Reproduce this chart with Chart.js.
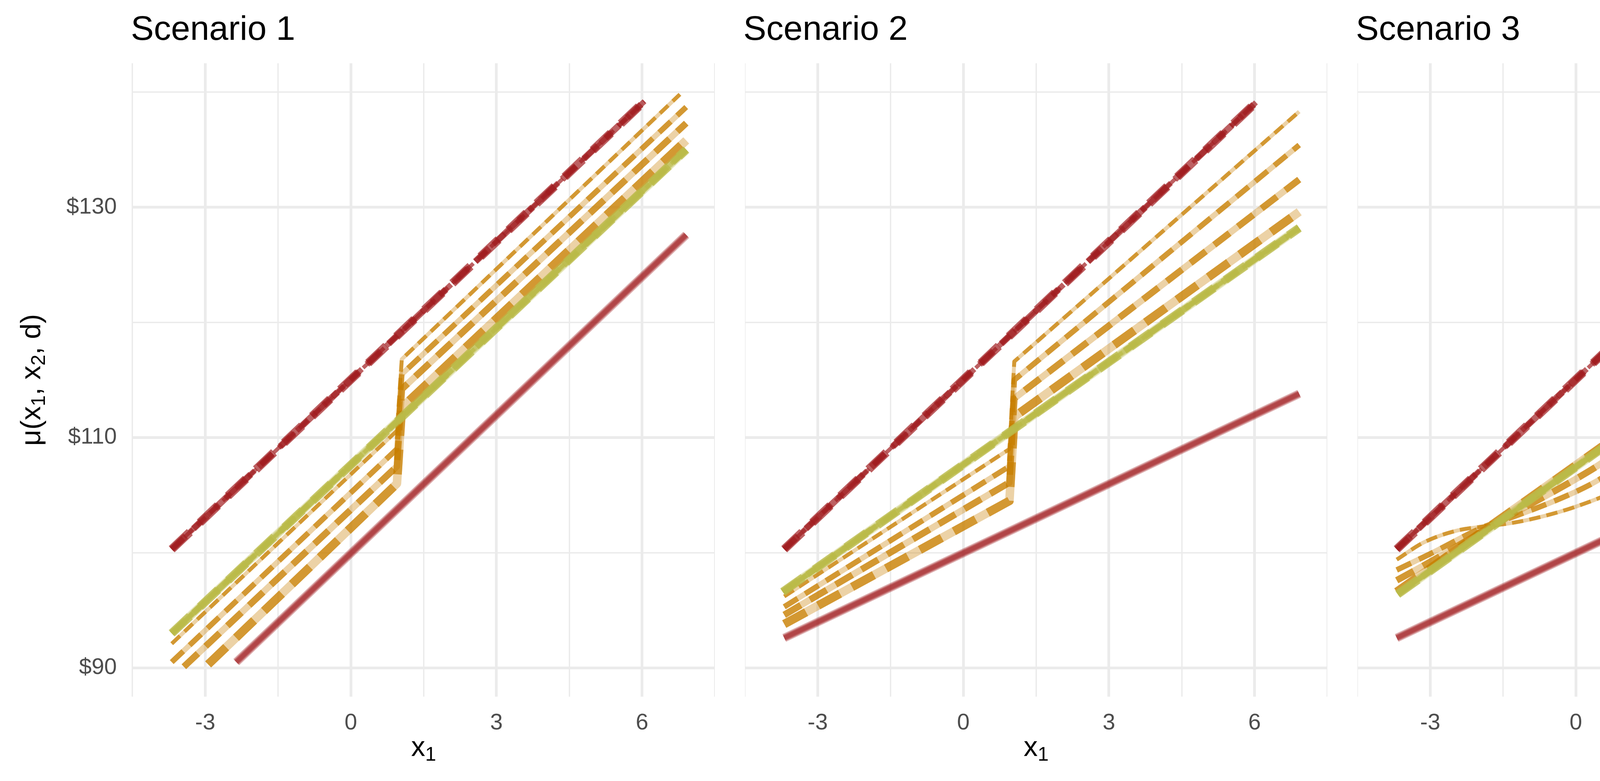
<!DOCTYPE html>
<html>
<head>
<meta charset="utf-8">
<script src="https://cdn.jsdelivr.net/npm/chart.js@4.4.1/dist/chart.umd.min.js"></script>
<style>
  html, body { margin: 0; padding: 0; background: #ffffff; }
  body { width: 5275px; height: 2000px; position: relative; overflow: hidden;
         font-family: "Liberation Sans", Arial, Helvetica, sans-serif; color: #000; }
  #page { position: absolute; left: 0; top: 0; width: 5275px; height: 2000px; }
  .t { position: absolute; white-space: nowrap; }
  canvas { position: absolute; }
  .sub { font-size: 0.7em; position: relative; top: 0.24em; }
  .sup { font-size: 0.62em; position: relative; top: -0.72em; }
</style>
</head>
<body>
<div id="page"></div>
<script>
// ---------------- DATA ----------------
const SCENARIO_NAMES = ["Scenario 1", "Scenario 2", "Scenario 3"];
const X_TICKS = [-3, 0, 3, 6];
const X_MINOR = [-4.5, -1.5, 1.5, 4.5, 7.5];
const Y_TICKS = [90, 110, 130];
const Y_TICK_LABELS = ["$90", "$110", "$130"];
const Y_MINOR = [100, 120, 140];
const D_LEVELS = ["0", "1"];
const MU_LEVELS = ["B", "U", "A"];
const X2_LEVELS = ["1", "2", "3", "4"];

// Scenario 1  ([x1, mu] points)
const S1_muB_d0 = [[-2.36, 90.5], [6.91, 127.6]];
const S1_muB_d1 = [[-3.69, 100.3], [6.05, 139.2]];
const S1_muA    = [[-3.69, 93.0], [6.91, 135.0]];
const S1_muU_x2_1 = [[-2.94, 90.3], [0.95, 106.0], [1.05, 112.6], [6.91, 135.8]];
const S1_muU_x2_2 = [[-3.44, 90.1], [0.95, 107.5], [1.05, 114.2], [6.91, 137.3]];
const S1_muU_x2_3 = [[-3.69, 90.5], [0.95, 109.0], [1.05, 115.5], [6.91, 138.7]];
const S1_muU_x2_4 = [[-3.69, 92.1], [0.95, 110.6], [1.05, 116.8], [6.78, 139.8]];

// Scenario 2
const S2_muB_d0 = [[-3.69, 92.6], [6.92, 113.8]];
const S2_muB_d1 = [[-3.69, 100.3], [6.03, 139.1]];
const S2_muA    = [[-3.72, 96.6], [6.92, 128.2]];
const S2_muU_x2_1 = [[-3.69, 93.8], [0.95, 104.5], [1.05, 111.8], [6.92, 129.6]];
const S2_muU_x2_2 = [[-3.69, 94.6], [0.95, 106.1], [1.05, 113.4], [6.92, 132.4]];
const S2_muU_x2_3 = [[-3.69, 95.3], [0.95, 107.5], [1.05, 115.0], [6.92, 135.4]];
const S2_muU_x2_4 = [[-3.69, 96.2], [0.95, 109.0], [1.05, 116.6], [6.92, 138.3]];

// Scenario 3
const S3_muB_d0 = [[-3.69, 92.6], [6.9, 113.75]];
const S3_muB_d1 = [[-3.69, 100.3], [6.02, 139.1]];
const S3_muA    = [[-3.67, 96.4], [6.9, 128.2]];
const S3_muU_x2_1 = [[-3.69, 96.6], [-1.8, 102.2], [1.0, 110.6], [3.8, 119.1], [6.9, 128.4]];
const S3_muU_x2_2 = [[-3.69, 97.6], [-3.0, 99.2], [-1.5, 102.9], [0.0, 106.4], [0.54, 107.8], [1.5, 110.9],
                     [3.0, 116.2], [3.8, 119.1], [4.53, 122.5], [5.26, 126.3], [5.99, 130.2], [6.57, 133.4], [6.92, 135.5]];
const S3_muU_x2_3 = [[-3.69, 98.5], [-3.0, 99.9], [-1.86, 102.3], [-1.5, 102.8], [0.0, 105.3], [0.54, 106.5],
                     [1.5, 109.4], [3.0, 115.0], [3.45, 117.0], [3.8, 119.2], [4.17, 121.7], [4.68, 125.2],
                     [5.33, 129.7], [5.99, 134.1], [6.5, 137.3], [6.88, 139.6]];
const S3_muU_x2_4 = [[-3.69, 99.4], [-3.13, 100.9], [-2.47, 101.9], [-1.86, 102.3], [-1.44, 102.5], [-0.83, 103.0],
                     [0.0, 104.0], [0.82, 105.4], [1.5, 107.2], [2.23, 109.8], [3.0, 113.8], [3.45, 116.5],
                     [3.8, 119.2], [4.38, 124.1], [4.73, 126.9], [5.11, 130.0], [5.43, 132.7], [5.68, 134.6],
                     [5.99, 136.8], [6.42, 139.5]];
const S3_muU_x2_4_d0 = S3_muU_x2_4.filter(p => p[0] <= 5.7);

// ---------------- STYLE / LAYOUT ----------------
const FONT = '"Liberation Sans", Arial, Helvetica, sans-serif';
const MU_RGB = { B: "161,28,32", U: "200,127,0", A: "187,187,72" };
const D_ALPHA = { "0": 0.35, "1": 0.7 };
const X2_WIDTH = { "1": 22, "2": 17, "3": 14, "4": 10 };
const PLOT_LEFT = [339, 1907, 3475];
const PLOT_W = 1491, PLOT_TOP = 162, PLOT_H = 1622;
const XAXIS_H = 130, YAXIS_W = 188;
const page = document.getElementById("page");

const scenarios = [
  { B: [S1_muB_d0, S1_muB_d1], A: [S1_muA, S1_muA],
    U0: [S1_muU_x2_1, S1_muU_x2_2, S1_muU_x2_3, S1_muU_x2_4],
    U1: [S1_muU_x2_1, S1_muU_x2_2, S1_muU_x2_3, S1_muU_x2_4], smooth: false },
  { B: [S2_muB_d0, S2_muB_d1], A: [S2_muA, S2_muA],
    U0: [S2_muU_x2_1, S2_muU_x2_2, S2_muU_x2_3, S2_muU_x2_4],
    U1: [S2_muU_x2_1, S2_muU_x2_2, S2_muU_x2_3, S2_muU_x2_4], smooth: false },
  { B: [S3_muB_d0, S3_muB_d1], A: [S3_muA, S3_muA],
    U0: [S3_muU_x2_1, S3_muU_x2_2, S3_muU_x2_3, S3_muU_x2_4_d0],
    U1: [S3_muU_x2_1, S3_muU_x2_2, S3_muU_x2_3, S3_muU_x2_4], smooth: true }
];

function seriesFor(sc, mu, d, k) {
  if (mu === "B") return sc.B[d];
  if (mu === "A") return sc.A[d];
  return d === 0 ? sc.U0[k] : sc.U1[k];
}

function buildDatasets(sc) {
  const bottomToTop = [];
  MU_LEVELS.forEach(mu => {
    D_LEVELS.forEach((dl, d) => {
      X2_LEVELS.forEach((x2, k) => {
        const w = X2_WIDTH[x2];
        bottomToTop.push({
          data: seriesFor(sc, mu, d, k).map(p => ({ x: p[0], y: p[1] })),
          borderColor: "rgba(" + MU_RGB[mu] + "," + D_ALPHA[dl] + ")",
          borderWidth: w,
          borderDash: d === 1 ? [2.9 * w, 1.6 * w] : [],
          borderCapStyle: "butt",
          borderJoinStyle: "round",
          pointRadius: 0,
          pointHoverRadius: 0,
          fill: false,
          cubicInterpolationMode: (sc.smooth && mu === "U") ? "monotone" : "default",
          tension: 0
        });
      });
    });
  });
  return bottomToTop.reverse(); // dataset 0 is painted last in Chart.js
}

const X_GRID = [...X_TICKS, ...X_MINOR].sort((a, b) => a - b);
const Y_GRID = [...Y_TICKS, ...Y_MINOR].sort((a, b) => a - b);

function zeroPad(s) { s.paddingLeft = 0; s.paddingRight = 0; s.paddingTop = 0; s.paddingBottom = 0; }

function addText(html, css) {
  const el = document.createElement("div");
  el.className = "t";
  el.innerHTML = html;
  Object.assign(el.style, css);
  page.appendChild(el);
  return el;
}

scenarios.forEach((sc, i) => {
  const yw = i === 0 ? YAXIS_W : 0;
  const cv = document.createElement("canvas");
  cv.width = PLOT_W + yw;
  cv.height = PLOT_H + XAXIS_H;
  cv.style.left = (PLOT_LEFT[i] - yw) + "px";
  cv.style.top = PLOT_TOP + "px";
  cv.style.width = cv.width + "px";
  cv.style.height = cv.height + "px";
  page.appendChild(cv);

  new Chart(cv.getContext("2d"), {
    type: "line",
    data: { datasets: buildDatasets(sc) },
    options: {
      responsive: false,
      animation: false,
      devicePixelRatio: 1,
      layout: { padding: 0 },
      plugins: { legend: { display: false }, tooltip: { enabled: false }, title: { display: false } },
      events: [],
      scales: {
        x: {
          type: "linear", min: -4.5, max: 7.5,
          afterBuildTicks: s => { s.ticks = X_GRID.map(v => ({ value: v })); },
          afterFit: s => { s.height = XAXIS_H; zeroPad(s); },
          border: { display: false },
          grid: { color: "#EBEBEB", drawTicks: false,
                  lineWidth: c => (X_TICKS.includes(c.tick.value) ? 7 : 3.5) },
          ticks: { autoSkip: false, maxRotation: 0, minRotation: 0, padding: 33,
                   color: "#4D4D4D", font: { family: FONT, size: 58 },
                   callback: v => (X_TICKS.includes(v) ? String(v) : "") }
        },
        y: {
          type: "linear", min: 87.5, max: 142.5,
          afterBuildTicks: s => { s.ticks = Y_GRID.map(v => ({ value: v })); },
          afterFit: s => { s.width = yw; zeroPad(s); },
          border: { display: false },
          grid: { color: "#EBEBEB", drawTicks: false,
                  lineWidth: c => (Y_TICKS.includes(c.tick.value) ? 7 : 3.5) },
          ticks: { display: i === 0, padding: 40, color: "#4D4D4D",
                   font: { family: FONT, size: 58 },
                   callback: v => { const j = Y_TICKS.indexOf(v); return j >= 0 ? Y_TICK_LABELS[j] : ""; } }
        }
      }
    }
  });

  addText(SCENARIO_NAMES[i], { left: (PLOT_LEFT[i] - 4) + "px", top: "28px",
                               fontSize: "88px", lineHeight: "88px" });
  addText('x<span class="sub">1</span>', { left: (PLOT_LEFT[i] + PLOT_W / 2) + "px", top: "1875px",
                               fontSize: "72px", lineHeight: "72px", transform: "translateX(-50%)" });
});

addText('\u03BC(x<span class="sub">1</span>, x<span class="sub">2</span>, d)',
        { left: "82px", top: "973px", fontSize: "72px", lineHeight: "72px",
          transform: "translate(-50%,-50%) rotate(-90deg)" });

// ---------------- LEGEND (HTML) ----------------
const LG_KEY_X = 5025, LG_KEY_W = 96, LG_LABEL_X = 5175;
function key(cy, h, bg) {
  const el = document.createElement("div");
  Object.assign(el.style, { position: "absolute", left: LG_KEY_X + "px", width: LG_KEY_W + "px",
                            top: (cy - h / 2) + "px", height: h + "px", background: bg });
  page.appendChild(el);
}
function title(html, top) { addText(html, { left: "5016px", top: top + "px", fontSize: "72px", lineHeight: "72px" }); }
function label(html, cy, dy) { addText(html, { left: LG_LABEL_X + "px", top: (cy - dy) + "px", fontSize: "58px", lineHeight: "58px" }); }

title("d", 144);
const D_Y = [314, 436];
key(D_Y[0], 7, "rgba(0,0,0," + D_ALPHA["0"] + ")");
key(D_Y[1], 7, "repeating-linear-gradient(90deg, rgba(0,0,0," + D_ALPHA["1"] + ") 0 22px, transparent 22px 38px)");
D_LEVELS.forEach((l, j) => label(l, D_Y[j], 28));

title("\u03BC", 636);
const MU_Y = [816, 936, 1056];
MU_LEVELS.forEach((m, j) => {
  key(MU_Y[j], 7, "rgb(" + MU_RGB[m] + ")");
  label('\u03BC<span class="sup" style="font-size:37px;top:-24px;margin-left:3px">' + m + '</span>', MU_Y[j], 30);
});

title('x<span class="sub">2</span>', 1266);
const X2_Y = [1442, 1564, 1684, 1805];
X2_LEVELS.forEach((l, j) => {
  key(X2_Y[j], X2_WIDTH[l], "#000000");
  label(l, X2_Y[j], 28);
});
</script>
</body>
</html>
